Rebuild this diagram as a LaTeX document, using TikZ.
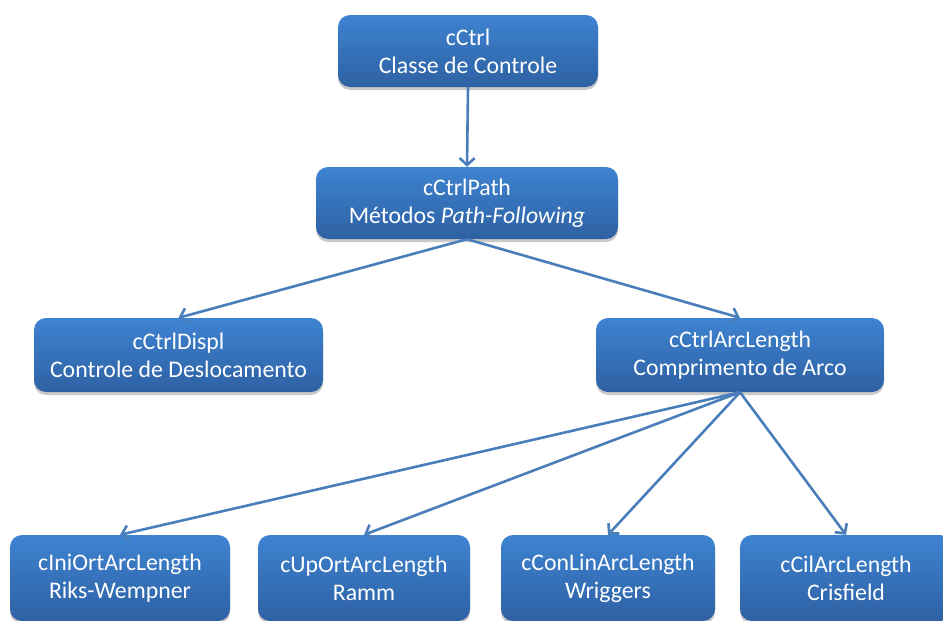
\documentclass[tikz,border=0pt]{standalone}
\usepackage{fontspec}
\setmainfont{Carlito}
\usetikzlibrary{arrows.meta,shadows}
\definecolor{boxTop}{HTML}{3E83D1}
\definecolor{boxBottom}{HTML}{2E61A3}
\definecolor{linkBlue}{HTML}{4A7EBB}
\tikzset{
  classBox/.style={rounded corners=12pt, top color=boxTop, bottom color=boxBottom,
    text=white, align=center, font=\fontsize{23.8}{28}\selectfont, inner sep=0pt,
    drop shadow={shadow xshift=0pt, shadow yshift=-3pt, opacity=0.3, fill=black!70}},
  classLink/.style={draw=linkBlue, line width=2.6pt, -{Straight Barb[length=7pt,width=15pt]}}
}

\begin{document}
\begin{tikzpicture}[x=1pt,y=-1pt]
  \clip (0,0) rectangle (943,621);

  \node[classBox, minimum width=260pt, minimum height=72pt] (ctrl) at (468,51)
    {cCtrl\\Classe de Controle};
  \node[classBox, minimum width=302pt, minimum height=72pt] (ctrlPath) at (467,203)
    {cCtrlPath\\Métodos \textit{Path-Following}};

  \node[classBox, minimum width=289pt, minimum height=74pt] (ctrlDispl) at (178.5,355)
    {cCtrlDispl\\Controle de Deslocamento};
  \node[classBox, minimum width=288pt, minimum height=74pt] (ctrlArc) at (740,355)
    {cCtrlArcLength\\Comprimento de Arco};

  \node[classBox, minimum width=220pt, minimum height=86pt] (iniOrt) at (120,578)
    {cIniOrtArcLength\\Riks-Wempner};
  \node[classBox, minimum width=212pt, minimum height=86pt] (upOrt) at (364,578)
    {cUpOrtArcLength\\Ramm};
  \node[classBox, minimum width=214pt, minimum height=86pt] (conLin) at (608,578)
    {cConLinArcLength\\Wriggers};
  \node[classBox, minimum width=212pt, minimum height=86pt] (cilArc) at (846,578)
    {cCilArcLength\\Crisfield};

  \draw[classLink] (ctrl.south) -- (ctrlPath.north);
  \draw[classLink] (ctrlPath.south) -- (ctrlDispl.north);
  \draw[classLink] (ctrlPath.south) -- (ctrlArc.north);
  \foreach \target in {iniOrt,upOrt,conLin,cilArc}
    \draw[classLink] (ctrlArc.south) -- (\target.north);
\end{tikzpicture}
\end{document}
